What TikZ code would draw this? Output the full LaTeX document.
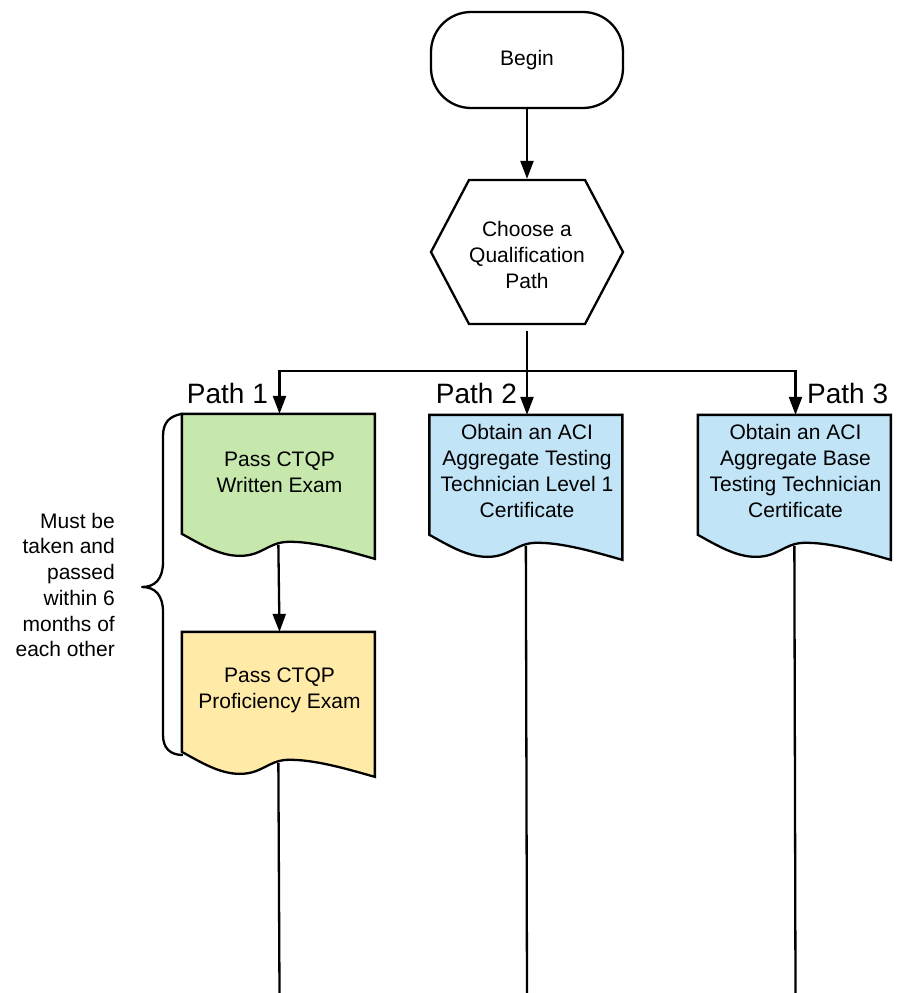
\documentclass[tikz,border=0pt]{standalone}
\usepackage{fontspec}
\setmainfont{Liberation Sans}
\usetikzlibrary{arrows.meta,backgrounds,calc}
\definecolor{docgreen}{HTML}{C7E8AC}
\definecolor{docyellow}{HTML}{FFEAA7}
\definecolor{docblue}{HTML}{C1E4F7}
\begin{document}
\begin{tikzpicture}[x=1pt,y=-1pt,
  line width=2.3pt,
  txt/.style={font=\fontsize{21}{25.7}\selectfont, align=center, inner sep=0pt},
  doctext/.style={txt, minimum width=193pt, minimum height=114pt},
  pathlbl/.style={font=\fontsize{28}{32}\selectfont, inner sep=0pt},
  arr/.style={-{Triangle[length=18pt,width=13pt]}},
  outline/.style={draw=black, line width=2.3pt, line join=miter}
]
\useasboundingbox (0,0) rectangle (916,993);

% nodes
\node[txt, draw, minimum width=192pt, minimum height=96pt, rounded corners=40pt] (begin) at (527,60) {Begin};
\node[txt, minimum width=192pt, minimum height=150pt] (hex) at (527,255) {Choose a\\Qualification\\Path};
\node[doctext] (g) at (279.5,472) {Pass CTQP\\Written Exam};
\node[doctext] (y) at (279.5,690) {Pass CTQP\\Proficiency Exam};
\node[doctext, minimum height=110pt] (b1) at (527,471) {Obtain an ACI\\Aggregate Testing\\Technician Level 1\\Certificate};
\node[doctext, minimum height=110pt] (b2) at (795.5,471) {Obtain an ACI\\Aggregate Base\\Testing Technician\\Certificate};

\node[pathlbl, anchor=base east] (p1) at (269,403) {Path 1};
\node[pathlbl, anchor=base east] (p2) at (518,403) {Path 2};
\node[pathlbl, anchor=base west] (p3) at (806,403) {Path 3};

\node[txt, align=right, anchor=east] (note) at (116,585) {Must be\\taken and\\passed\\within 6\\months of\\each other};

% shapes on background
\begin{scope}[on background layer]
  \draw[outline, fill=white] (469,180) -- (585,180) -- (623,252) -- (585,324) -- (469,324) -- (431,252) -- cycle;
  \foreach \n/\c in {g/docgreen, y/docyellow, b1/docblue, b2/docblue}{
    \begin{scope}[shift={(\n.north west)}]
      \draw[outline, fill=\c] (0,0) -- (193,0) -- (193,145)
        .. controls (168,138) and (132,127) .. (105,128)
        .. controls (86,129) and (80,142) .. (58,142)
        .. controls (38,142) and (20,131) .. (0,120) -- cycle;
      \coordinate (\n-w) at (96.5,131);
    \end{scope}
  }
\end{scope}

% connectors
\coordinate (j) at (527,371);
\draw[arr] (begin) -- (hex);
\draw (hex.south) -- (j);
\draw[arr] (j) -| (g.north);
\draw[arr] (j) -- (b1.north);
\draw[arr] (j) -| (b2.north);
\draw[arr] (g-w) -- (y.north);
\coordinate (yend) at (279.5,993);
\coordinate (b1end) at (527,993);
\coordinate (b2end) at (795.5,993);
\draw (y-w) -- (yend);
\draw (b1-w) -- (b1end);
\draw (b2-w) -- (b2end);

% brace
\draw[line join=round] (g.north west)
  .. controls (170,416) and (163,422) .. (163,436)
  -- (163,562)
  .. controls (163,579) and (155,587) .. (142,587)
  .. controls (155,587) and (163,595) .. (163,612)
  -- (163,735)
  .. controls (163,748) and (170,755) .. (183,755);
\end{tikzpicture}
\end{document}
